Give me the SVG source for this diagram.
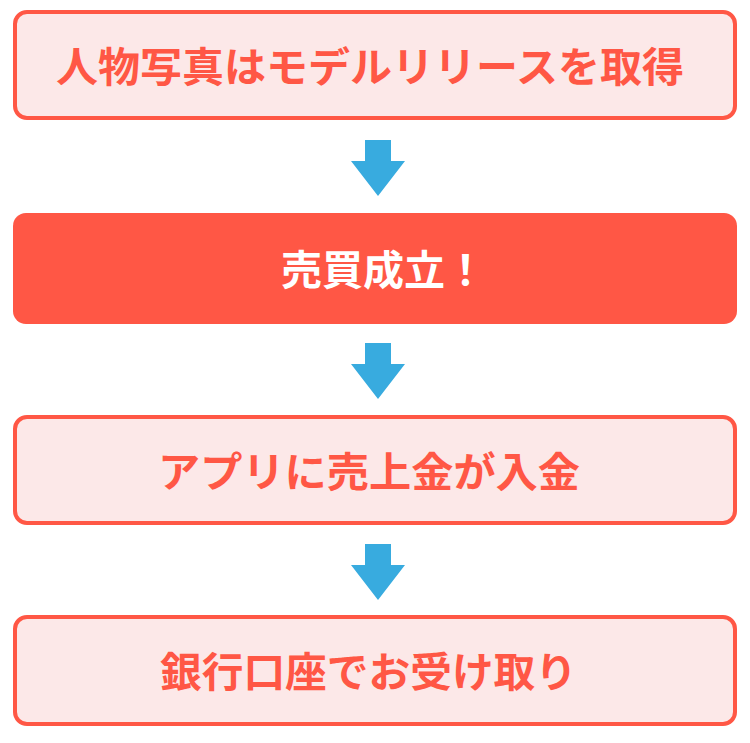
<svg xmlns="http://www.w3.org/2000/svg" width="750" height="743" viewBox="0 0 750 743">
<style>
.box{fill:#FCE8E8;stroke:#FF5745;stroke-width:4}
.boxf{fill:#FF5745}
.t{font-family:"Noto Sans CJK JP","Noto Sans CJK SC",sans-serif;font-weight:bold;font-size:41px;fill:#FF5745}
.tw{fill:#FFFFFF}
.arr{fill:#38ABDF}
</style>
<rect width="750" height="743" fill="#FFFFFF"/>
<g id="node1">
<rect class="box" x="15" y="12" width="720" height="106" rx="12"/>
<text class="t" x="56" y="82" textLength="628" lengthAdjust="spacingAndGlyphs">人物写真はモデルリリースを取得</text>
</g>
<g id="node2">
<rect class="boxf" x="13" y="213" width="724" height="111" rx="13"/>
<text class="t tw" x="281" y="285">売買成立！</text>
</g>
<g id="node3">
<rect class="box" x="15" y="417" width="720" height="106" rx="12"/>
<text class="t" x="158" y="487" textLength="422" lengthAdjust="spacingAndGlyphs">アプリに売上金が入金</text>
</g>
<g id="node4">
<rect class="box" x="15" y="617" width="720" height="107" rx="12"/>
<text class="t" x="160" y="687" textLength="417" lengthAdjust="spacingAndGlyphs">銀行口座でお受け取り</text>
</g>
<g id="connectors">
<path class="arr" d="M365,140 H391 V161 H405 L378,196 L351,161 H365 Z"/>
<path class="arr" d="M365,343 H391 V364 H405 L378,399 L351,364 H365 Z"/>
<path class="arr" d="M365,544 H391 V565 H405 L378,600 L351,565 H365 Z"/>
</g>
</svg>
